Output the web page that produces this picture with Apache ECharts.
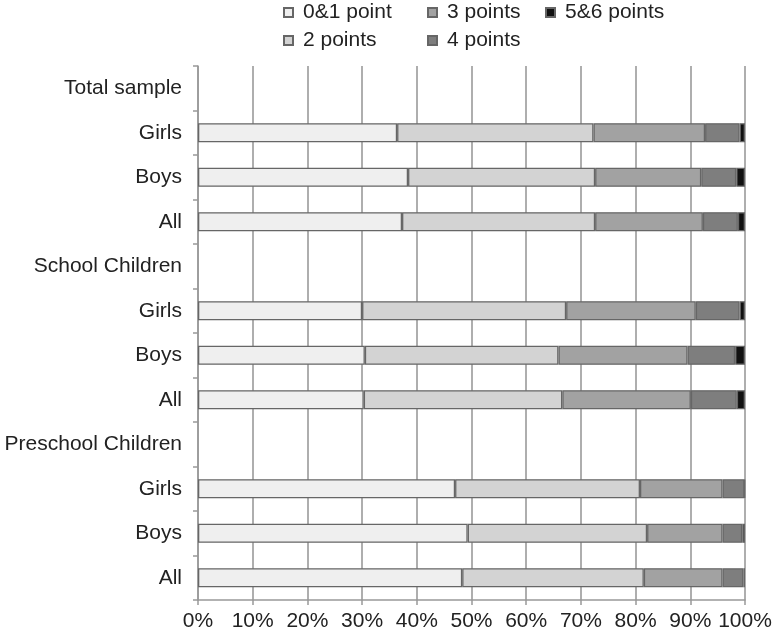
<!DOCTYPE html>
<html>
<head>
<meta charset="utf-8">
<script src="https://cdn.jsdelivr.net/npm/echarts@6/dist/echarts.min.js"></script>
<style>html,body{margin:0;padding:0;background:#fff}#c{width:773px;height:629px}</style>
</head>
<body>
<div id="c"></div>
<script>
const categories = ['Total sample','Girls','Boys','All','School Children','Girls','Boys','All','Preschool Children','Girls','Boys','All'];
const seriesNames = ['0&1 point','2 points','3 points','4 points','5&6 points'];
const pts01 = [null,36.4,38.4,37.3,null,30.0,30.5,30.3,null,47.0,49.3,48.3];
const pts2  = [null,35.9,34.2,35.3,null,37.3,35.4,36.3,null,33.8,32.8,33.2];
const pts3  = [null,20.4,19.4,19.7,null,23.7,23.6,23.5,null,15.1,13.8,14.4];
const pts4  = [null,6.3,6.4,6.4,null,8.0,8.7,8.4,null,4.0,3.6,3.8];
const pts56 = [null,1.0,1.6,1.3,null,1.0,1.8,1.5,null,0.1,0.5,0.3];
const xTicks = [0,10,20,30,40,50,60,70,80,90,100];

const colors = ['#efefef','#d3d3d3','#a2a2a2','#7e7e7e','#111111'];
const values = [pts01, pts2, pts3, pts4, pts56];
const font = 'Liberation Sans, Arial, sans-serif';

const chart = echarts.init(document.getElementById('c'), null, {renderer:'canvas'});
const legendPos = [[283,2],[283,30],[427,2],[427,30],[545,2]];
const legends = seriesNames.map((n,i)=>({
  data:[n], left:legendPos[i][0], top:legendPos[i][1], padding:0,
  itemWidth:9, itemHeight:9, icon:'rect',
  textStyle:{fontFamily:font, fontSize:21, color:'#222', padding:[0,0,0,5]}
}));

chart.setOption({
  animation:false,
  legend: legends,
  grid:{left:198, right:28, top:66, bottom:29, containLabel:false, outerBoundsMode:'none'},
  xAxis:{
    type:'value', min:xTicks[0], max:xTicks[xTicks.length-1], interval:10,
    axisLine:{show:true, lineStyle:{color:'#999', width:1.5}},
    axisTick:{show:true, length:5, lineStyle:{color:'#999', width:1.5}},
    axisLabel:{formatter:'{value}%', fontFamily:font, fontSize:21, color:'#222', margin:11},
    splitLine:{show:true, lineStyle:{color:'#9a9a9a', width:1.6}}
  },
  yAxis:{
    type:'category', data:categories, inverse:true,
    axisLine:{show:true, lineStyle:{color:'#999', width:1.5}},
    axisTick:{show:true, length:5, lineStyle:{color:'#999', width:1.5}},
    axisLabel:{fontFamily:font, fontSize:21, color:'#222', margin:16}
  },
  series: seriesNames.map((n,i)=>({
    name:n, type:'bar', stack:'total', data:values[i], barWidth:'43%',
    itemStyle:{color:colors[i], borderColor:'#666', borderWidth:1.3}
  }))
});
</script>
</body>
</html>
